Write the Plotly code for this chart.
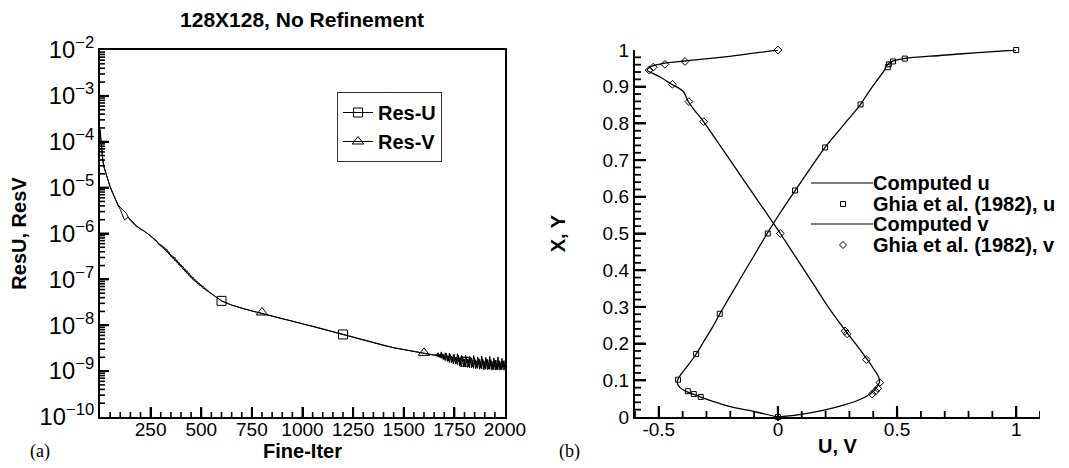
import plotly.graph_objects as go

W, H = 1069, 468

# ---------------- (a) residual history ----------------
fine_iter = [0, 4, 8, 14, 20, 30, 40, 50, 60, 70, 80, 90, 100, 110, 120, 130, 140, 150, 160, 170,
             180, 190, 200, 210, 220, 230, 240, 250, 260, 270, 280, 290, 300, 310, 320, 330, 340, 350,
             360, 370, 380, 390, 400, 410, 420, 430, 440, 450, 460, 470, 480, 490, 500, 510, 520, 530,
             540, 550, 560, 570, 580, 590, 600, 650, 700, 750, 800, 850, 900, 950, 1000, 1050, 1100,
             1150, 1200, 1250, 1300, 1350, 1400, 1450, 1500, 1550, 1600, 1650,
             1660, 1665, 1670, 1675, 1680, 1685, 1690, 1695, 1700, 1705, 1710, 1715, 1720, 1725, 1730,
             1735, 1740, 1745, 1750, 1755, 1760, 1765, 1770, 1775, 1780, 1785, 1790, 1795, 1800, 1805,
             1810, 1815, 1820, 1825, 1830, 1835, 1840, 1845, 1850, 1855, 1860, 1865, 1870, 1875, 1880,
             1885, 1890, 1895, 1900, 1905, 1910, 1915, 1920, 1925, 1930, 1935, 1940, 1945, 1950, 1955,
             1960, 1965, 1970, 1975, 1980, 1985, 1990, 1995, 2000]

log10_res_u = [-3.75, -4.00, -4.20, -4.42, -4.55, -4.70, -4.86, -4.99, -5.10, -5.20, -5.30, -5.38, -5.43,
               -5.47, -5.50, -5.56, -5.66, -5.69, -5.73, -5.79, -5.84, -5.87, -5.90, -5.92, -5.96, -5.98,
               -6.02, -6.05, -6.10, -6.12, -6.18, -6.21, -6.28, -6.27, -6.36, -6.34, -6.45, -6.46, -6.55,
               -6.52, -6.64, -6.63, -6.73, -6.72, -6.83, -6.81, -6.93, -6.92, -7.02, -7.00, -7.09, -7.08,
               -7.16, -7.15, -7.23, -7.23, -7.29, -7.30, -7.35, -7.37, -7.41, -7.44, -7.47, -7.56, -7.63,
               -7.69, -7.74, -7.80, -7.86, -7.91, -7.97, -8.02, -8.08, -8.14, -8.20, -8.26, -8.32, -8.38,
               -8.44, -8.49, -8.53, -8.57, -8.61, -8.65,
               -8.66, -8.62, -8.69, -8.64, -8.70, -8.58, -8.71, -8.63, -8.74, -8.60, -8.72, -8.66, -8.78,
               -8.61, -8.75, -8.68, -8.80, -8.64, -8.77, -8.70, -8.83, -8.62, -8.79, -8.72, -8.86, -8.66,
               -8.80, -8.73, -8.88, -8.65, -8.82, -8.74, -8.90, -8.68, -8.84, -8.71, -8.91, -8.66, -8.85,
               -8.76, -8.92, -8.69, -8.86, -8.74, -8.93, -8.67, -8.87, -8.77, -8.94, -8.70, -8.88, -8.75,
               -8.95, -8.68, -8.89, -8.78, -8.95, -8.71, -8.90, -8.76, -8.96, -8.69, -8.90, -8.79, -8.96,
               -8.72, -8.91, -8.77, -8.95]

log10_res_v = [-3.70, -3.95, -4.15, -4.40, -4.56, -4.72, -4.84, -4.97, -5.08, -5.22, -5.32, -5.40, -5.47,
               -5.60, -5.70, -5.68, -5.64, -5.72, -5.77, -5.80, -5.85, -5.86, -5.91, -5.93, -5.95, -5.99,
               -6.01, -6.07, -6.08, -6.15, -6.16, -6.24, -6.24, -6.32, -6.31, -6.41, -6.40, -6.50, -6.49,
               -6.60, -6.58, -6.69, -6.68, -6.79, -6.77, -6.88, -6.86, -6.97, -6.95, -7.05, -7.04, -7.13,
               -7.12, -7.20, -7.19, -7.26, -7.27, -7.32, -7.34, -7.38, -7.40, -7.43, -7.47, -7.56, -7.63,
               -7.69, -7.745, -7.80, -7.86, -7.91, -7.97, -8.02, -8.08, -8.14, -8.20, -8.26, -8.32, -8.38,
               -8.44, -8.49, -8.53, -8.57, -8.61, -8.65,
               -8.64, -8.68, -8.60, -8.70, -8.63, -8.72, -8.62, -8.75, -8.66, -8.77, -8.61, -8.79, -8.67,
               -8.81, -8.63, -8.82, -8.69, -8.84, -8.64, -8.85, -8.70, -8.86, -8.66, -8.88, -8.72, -8.89,
               -8.67, -8.90, -8.74, -8.91, -8.69, -8.92, -8.75, -8.93, -8.70, -8.93, -8.77, -8.94, -8.71,
               -8.95, -8.78, -8.94, -8.72, -8.96, -8.79, -8.95, -8.73, -8.97, -8.80, -8.96, -8.74, -8.97,
               -8.81, -8.96, -8.75, -8.98, -8.82, -8.97, -8.76, -8.98, -8.83, -8.97, -8.77, -8.98, -8.84,
               -8.97, -8.78, -8.98, -8.85]

marker_iter_u = [600, 1200, 1800]
marker_res_u = [3.4e-8, 6.3e-9, 1.6e-9]
marker_iter_v = [800, 1600]
marker_res_v = [1.9e-8, 2.5e-9]

x_ticks_a = [250, 500, 750, 1000, 1250, 1500, 1750, 2000]

res_u = [10 ** v for v in log10_res_u]
res_v = [10 ** v for v in log10_res_v]

# ---------------- (b) centreline velocities ----------------
ghia_y = [1.0000, 0.9766, 0.9688, 0.9609, 0.9531, 0.8516, 0.7344, 0.6172, 0.5000, 0.4531,
          0.2813, 0.1719, 0.1016, 0.0703, 0.0625, 0.0547, 0.0000]
ghia_u = [1.0, 0.53236, 0.48296, 0.46547, 0.46101, 0.34682, 0.19791, 0.07156, -0.04272, -0.86636,
          -0.24427, -0.34323, -0.41933, -0.37827, -0.35344, -0.32407, 0.0]
ghia_x = [1.0000, 0.9688, 0.9609, 0.9531, 0.9453, 0.9063, 0.8594, 0.8047, 0.5000, 0.2344,
          0.2266, 0.1563, 0.0938, 0.0781, 0.0703, 0.0625, 0.0000]
ghia_v = [0.0, -0.39017, -0.47425, -0.52357, -0.54053, -0.44307, -0.37401, -0.31184, 0.00999, 0.28188,
          0.29030, 0.37119, 0.42768, 0.41906, 0.40917, 0.39560, 0.0]

comp_y = [0, 0.015, 0.028, 0.042, 0.055, 0.069, 0.080, 0.092, 0.101, 0.119, 0.142, 0.171, 0.205, 0.242,
          0.28, 0.33, 0.38, 0.44, 0.5, 0.56, 0.617, 0.675, 0.734, 0.79, 0.852, 0.882, 0.914, 0.932,
          0.945, 0.955, 0.962, 0.969, 0.977, 0.985, 0.993, 1.0]
comp_u = [0, -0.101, -0.2, -0.27, -0.327, -0.383, -0.411, -0.422, -0.421, -0.404, -0.376, -0.344, -0.312,
          -0.277, -0.245, -0.2, -0.155, -0.1, -0.045, 0.013, 0.072, 0.133, 0.197, 0.268, 0.347, 0.377,
          0.412, 0.433, 0.447, 0.455, 0.462, 0.48, 0.532, 0.68, 0.84, 1.0]

comp_x = [0, 0.0074, 0.019, 0.033, 0.049, 0.0646, 0.078, 0.0946, 0.110, 0.128, 0.155, 0.192, 0.233,
          0.296, 0.36, 0.41, 0.46, 0.5, 0.56, 0.61, 0.68, 0.75, 0.805, 0.83, 0.859, 0.887, 0.9065,
          0.927, 0.938, 0.945, 0.955, 0.964, 0.97, 0.982, 1.0]
comp_v = [0, 0.096, 0.194, 0.279, 0.349, 0.391, 0.412, 0.426, 0.422, 0.405, 0.377, 0.335, 0.286, 0.215,
          0.151, 0.101, 0.05, 0.01, -0.053, -0.106, -0.18, -0.254, -0.312, -0.343, -0.376, -0.397,
          -0.446, -0.496, -0.531, -0.549, -0.531, -0.475, -0.39, -0.214, 0.0]

x_ticks_b = [-0.5, 0, 0.5, 1]
x_ticktext_b = ["-0.5", "0", "0.5", "1"]

legend_b_labels = ["Computed u", "Ghia et al. (1982), u", "Computed v", "Ghia et al. (1982), v"]

# ---------------- figure ----------------
SANS = "Liberation Sans, Arial, sans-serif"
BLACK = "#000000"
fig = go.Figure()

# (a) lines
fig.add_trace(go.Scatter(x=fine_iter, y=res_u, mode="lines", line=dict(color=BLACK, width=1),
                         showlegend=False, xaxis="x", yaxis="y"))
fig.add_trace(go.Scatter(x=fine_iter, y=res_v, mode="lines", line=dict(color=BLACK, width=1),
                         showlegend=False, xaxis="x", yaxis="y"))
fig.add_trace(go.Scatter(x=marker_iter_u, y=marker_res_u, mode="markers",
                         marker=dict(symbol="square-open", size=9, color=BLACK, line=dict(width=1)),
                         showlegend=False, cliponaxis=False, xaxis="x", yaxis="y"))
fig.add_trace(go.Scatter(x=marker_iter_v, y=marker_res_v, mode="markers",
                         marker=dict(symbol="triangle-up-open", size=10, color=BLACK, line=dict(width=1)),
                         showlegend=False, cliponaxis=False, xaxis="x", yaxis="y"))
# legend entries for (a)
fig.add_trace(go.Scatter(x=[None], y=[None], mode="lines+markers", name="Res-U",
                         line=dict(color=BLACK, width=1),
                         marker=dict(symbol="square-open", size=9, color=BLACK, line=dict(width=1)),
                         xaxis="x", yaxis="y", legend="legend"))
fig.add_trace(go.Scatter(x=[None], y=[None], mode="lines+markers", name="Res-V",
                         line=dict(color=BLACK, width=1),
                         marker=dict(symbol="triangle-up-open", size=10, color=BLACK, line=dict(width=1)),
                         xaxis="x", yaxis="y", legend="legend"))

# (b)
fig.add_trace(go.Scatter(x=comp_u, y=comp_y, mode="lines", line=dict(color=BLACK, width=1.3, shape="spline",
                         smoothing=0.8), showlegend=False, name=legend_b_labels[0], xaxis="x2", yaxis="y2"))
fig.add_trace(go.Scatter(x=ghia_u, y=ghia_y, mode="markers", name=legend_b_labels[1],
                         marker=dict(symbol="square-open", size=5, color=BLACK, line=dict(width=1)),
                         showlegend=False, cliponaxis=False, xaxis="x2", yaxis="y2"))
fig.add_trace(go.Scatter(x=comp_v, y=comp_x, mode="lines", line=dict(color=BLACK, width=1.3, shape="spline",
                         smoothing=0.8), showlegend=False, name=legend_b_labels[2], xaxis="x2", yaxis="y2"))
fig.add_trace(go.Scatter(x=ghia_v, y=ghia_x, mode="markers", name=legend_b_labels[3],
                         marker=dict(symbol="diamond-open", size=6, color=BLACK, line=dict(width=1)),
                         showlegend=False, cliponaxis=False, xaxis="x2", yaxis="y2"))

tickfont = dict(family=SANS, size=19, color=BLACK)
titlefont = dict(family=SANS, size=20, color=BLACK, weight="bold")


def px_x(p):
    return p / W


def px_y(p):
    return 1 - p / H


y_dom = [px_y(409), px_y(42)]

axis_common = dict(ticks="inside", tickcolor=BLACK, showline=True, linecolor=BLACK, showgrid=False,
                   zeroline=False, tickfont=tickfont, automargin=False)

fig.update_layout(
    width=W, height=H,
    margin=dict(l=0, r=0, t=0, b=0),
    paper_bgcolor="white", plot_bgcolor="white",
    title=dict(text="128X128, No Refinement", font=dict(family=SANS, size=21, color=BLACK, weight="bold"),
               x=px_x(294), xanchor="center", y=px_y(4), yref="container", yanchor="top"),
    xaxis=dict(domain=[px_x(92), px_x(497)], anchor="y", range=[0, 2000], tickvals=x_ticks_a,
               ticklen=10, tickwidth=2, linewidth=2, mirror=True, ticklabelstandoff=-6,
               title=dict(text="Fine-Iter", font=titlefont, standoff=0), **axis_common),
    yaxis=dict(domain=y_dom, anchor="x", type="log", range=[-10, -2], dtick=1, exponentformat="power",
               ticklen=9, tickwidth=2, linewidth=2, mirror=True,
               title=dict(text="ResU, ResV", font=titlefont, standoff=12), **axis_common),
    xaxis2=dict(domain=[px_x(627), px_x(1032)], anchor="y2", range=[-0.6, 1.1], tickvals=x_ticks_b,
                ticktext=x_ticktext_b, ticklen=11, tickwidth=2.2, linewidth=2.4, ticklabelstandoff=-6,
                title=dict(text="U, V", font=titlefont, standoff=0), **axis_common),
    yaxis2=dict(domain=y_dom, anchor="x2", range=[0, 1], dtick=0.1, tick0=0, ticklen=11,
                tickwidth=2.2, linewidth=2.4,
                title=dict(text="X, Y", font=titlefont, standoff=32), **axis_common),
    legend=dict(x=px_x(329), y=px_y(84), xanchor="left", yanchor="top", bgcolor="white",
                bordercolor="#333", borderwidth=1, font=dict(family=SANS, size=20, color=BLACK,
                weight="bold"), tracegroupgap=0),
)

# manual legend for (b) (tight Tecplot-style spacing)
rows_b = [175, 196, 216, 237]
ann = []
for lab, r in zip(legend_b_labels, rows_b):
    ann.append(dict(text=lab, x=px_x(863), y=px_y(r), xref="paper", yref="paper", xanchor="left",
                    yanchor="middle", showarrow=False, font=dict(family=SANS, size=20, color=BLACK,
                    weight="bold")))
ann.append(dict(text="(a)", x=px_x(20), y=px_y(456), xref="paper", yref="paper", showarrow=False,
                font=dict(family="Liberation Serif, Times New Roman, serif", size=18, color=BLACK)))
ann.append(dict(text="(b)", x=px_x(561), y=px_y(456), xref="paper", yref="paper", showarrow=False,
                font=dict(family="Liberation Serif, Times New Roman, serif", size=18, color=BLACK)))
fig.update_layout(annotations=ann)

shapes = []
for r in (rows_b[0], rows_b[2]):
    shapes.append(dict(type="line", xref="paper", yref="paper", x0=px_x(803), x1=px_x(865),
                       y0=px_y(r), y1=px_y(r), line=dict(color=BLACK, width=1.2), opacity=1))
shapes.append(dict(type="rect", xref="paper", yref="paper", xsizemode="pixel", ysizemode="pixel",
                   xanchor=px_x(835), yanchor=px_y(rows_b[1]), x0=-2.5, x1=2.5, y0=-2.5, y1=2.5,
                   line=dict(color=BLACK, width=1), fillcolor="rgba(0,0,0,0)", opacity=1))
shapes.append(dict(type="path", xref="paper", yref="paper", xsizemode="pixel", ysizemode="pixel",
                   xanchor=px_x(835), yanchor=px_y(rows_b[3]),
                   path="M0,3.5 L3.5,0 L0,-3.5 L-3.5,0 Z", line=dict(color=BLACK, width=1),
                   fillcolor="rgba(0,0,0,0)", opacity=1))


# minor tick marks (and majors, coinciding with the axis ticks), drawn inward from the axis lines
def xticks(xref, yref, vals, length, width):
    for v in vals:
        shapes.append(dict(type="line", xref=xref, yref=yref + " domain", ysizemode="pixel", yanchor=0,
                           x0=v, x1=v, y0=0, y1=length, line=dict(color=BLACK, width=width),
                           layer="above", opacity=1))


def yticks(xref, yref, vals, length, width):
    for v in vals:
        shapes.append(dict(type="line", xref=xref + " domain", yref=yref, xsizemode="pixel", xanchor=0,
                           x0=0, x1=length, y0=v, y1=v, line=dict(color=BLACK, width=width),
                           layer="above", opacity=1))


a_x_minor = [v for v in range(50, 2000, 50) if v % 250 != 0]
a_y_major = [10.0 ** e for e in range(-9, -2)]
a_y_minor = [k * 10.0 ** e for e in range(-10, -2) for k in range(2, 10)]
b_x_minor = [round(-0.6 + 0.1 * i, 2) for i in range(18) if round(-0.6 + 0.1 * i, 2) not in x_ticks_b]
b_y_major = [round(0.1 * i, 2) for i in range(1, 10)]
b_y_minor = [round(0.02 * i, 2) for i in range(1, 50) if i % 5 != 0]

xticks("x", "y", x_ticks_a[:-1], 10, 2)
xticks("x", "y", a_x_minor, 5, 1.6)
yticks("x", "y", a_y_major, 9, 2)
yticks("x", "y", a_y_minor, 5, 1.6)
xticks("x2", "y2", x_ticks_b, 11, 2.2)
xticks("x2", "y2", b_x_minor, 6, 1.8)
yticks("x2", "y2", b_y_major, 11, 2.2)
yticks("x2", "y2", b_y_minor, 6, 1.8)

fig.update_layout(shapes=shapes)

fig.write_html("out.html")
